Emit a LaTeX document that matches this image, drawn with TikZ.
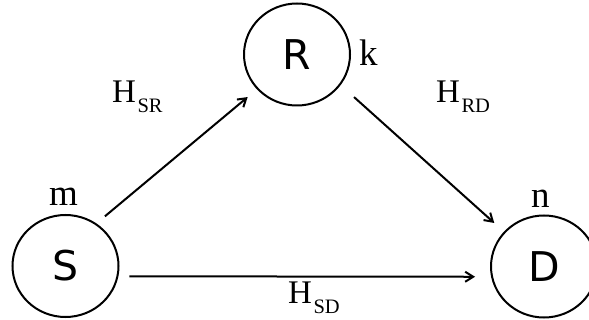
\documentclass[tikz,border=0pt]{standalone}
\usepackage{fontspec}
\setmainfont{Liberation Serif}
\newfontfamily\lsans{DejaVu Sans}
\usetikzlibrary{shapes.geometric,arrows.meta}
\newcommand\hsub[1]{{\fontsize{33}{36}\selectfont H}\kern1.5pt\raisebox{-10pt}{\fontsize{20.5}{22}\selectfont #1}}
\begin{document}
\begin{tikzpicture}[x=1pt,y=-1pt,
  station/.style={ellipse,draw,line width=2pt,minimum width=106pt,minimum height=102pt,inner sep=0pt,font=\lsans\fontsize{41}{41}\selectfont},
  arr/.style={line width=2pt,-{Straight Barb[length=8pt,width=10pt]}},
  lbl/.style={anchor=base west,inner sep=0pt,font=\fontsize{37}{40}\selectfont},
  hl/.style={anchor=base west,inner sep=0pt}]
\useasboundingbox (0,0) rectangle (589,320);
\node[station] (R) at (297,54.5) {R};
\node[station] (S) at (65.5,266) {S};
\node[station] (D) at (544,266.5) {D};
\node[lbl] (m) at (49,206) {m};
\node[lbl] (n) at (531,208) {n};
\node[lbl] (k) at (359,66) {k};
\node[hl] (hsr) at (112,103) {\hsub{SR}};
\node[hl] (hrd) at (436,103) {\hsub{RD}};
\node[hl] (hsd) at (288,304) {\hsub{SD}};
\draw[arr,shorten <=11pt,shorten >=12pt] (S.54) -- (R.221);
\draw[arr,shorten <=18pt,shorten >=13pt] (R.-35) -- (D.139);
\draw[arr,shorten <=11pt,shorten >=16pt] (S.-11) -- (D.191);
\end{tikzpicture}
\end{document}
